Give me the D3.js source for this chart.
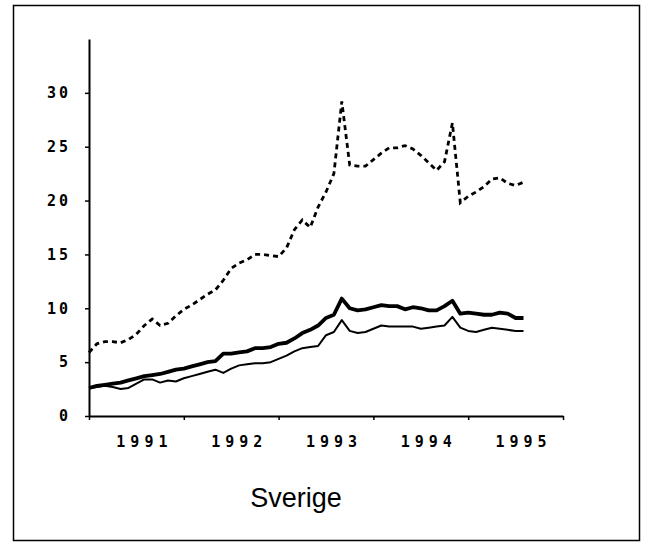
<!DOCTYPE html>
<html>
    <head>
        <script src="https://cdn.jsdelivr.net/npm/d3@7/dist/d3.min.js" type="text/javascript"></script>
        <style>
            body { margin: 0; background: #fff; }
        </style>
    </head>
    <body>
    </body>
    <script>
        var width = 650;
        var height = 546;

        // monthly values, first point = Jan 1991
        var startYear = 1991;
        var youth = [5.9, 6.7, 6.9, 6.9, 6.8, 7.1, 7.6, 8.4, 9.0, 8.4,
                     8.6, 9.3, 9.9, 10.3, 10.8, 11.3, 11.7, 12.6, 13.7, 14.2,
                     14.5, 15.0, 15.0, 14.9, 14.8, 15.6, 17.3, 18.2, 17.5, 19.4,
                     20.8, 22.5, 29.2, 23.3, 23.2, 23.2, 23.8, 24.4, 24.9, 24.9,
                     25.1, 24.8, 24.2, 23.5, 22.8, 23.6, 27.2, 19.8, 20.4, 20.8,
                     21.3, 22.0, 22.1, 21.6, 21.4, 21.7];
        var total = [2.6, 2.8, 2.9, 3.0, 3.1, 3.3, 3.5, 3.7, 3.8, 3.9,
                     4.1, 4.3, 4.4, 4.6, 4.8, 5.0, 5.1, 5.8, 5.8, 5.9,
                     6.0, 6.3, 6.3, 6.4, 6.7, 6.8, 7.2, 7.7, 8.0, 8.4,
                     9.1, 9.4, 10.9, 10.0, 9.8, 9.9, 10.1, 10.3, 10.2, 10.2,
                     9.9, 10.1, 10.0, 9.8, 9.8, 10.2, 10.7, 9.5, 9.6, 9.5,
                     9.4, 9.4, 9.6, 9.5, 9.1, 9.1];
        var open = [2.6, 2.7, 2.8, 2.7, 2.5, 2.6, 3.0, 3.4, 3.4, 3.1,
                    3.3, 3.2, 3.5, 3.7, 3.9, 4.1, 4.3, 4.0, 4.4, 4.7,
                    4.8, 4.9, 4.9, 5.0, 5.3, 5.6, 6.0, 6.3, 6.4, 6.5,
                    7.5, 7.8, 8.9, 7.9, 7.7, 7.8, 8.1, 8.4, 8.3, 8.3,
                    8.3, 8.3, 8.1, 8.2, 8.3, 8.4, 9.2, 8.2, 7.9, 7.8,
                    8.0, 8.2, 8.1, 8.0, 7.9, 7.9];
        var yTicks = [0, 5, 10, 15, 20, 25, 30];
        var years = [1991, 1992, 1993, 1994, 1995];
        var title = "Sverige";

        var svg = d3.select("body").append("svg")
                                   .attr("width", width)
                                   .attr("height", height);

        // scanned page frame
        svg.append("rect")
           .attr("x", 13.5)
           .attr("y", 5.5)
           .attr("width", 626)
           .attr("height", 535)
           .attr("fill", "none")
           .attr("stroke", "black")
           .attr("stroke-width", 1.5);

        var x = d3.scaleLinear().domain([1991, 1996]).range([89, 563]);
        var y = d3.scaleLinear().domain([0, 35]).range([416, 39]);

        function toPoints(arr){
            return arr.map(function(v, i){ return {t: startYear + i/12, v: v}; });
        }

        var line = d3.line()
                     .x(function(d){ return x(d.t); })
                     .y(function(d){ return y(d.v); });

        // y axis
        var yAxis = svg.append("g")
                       .attr("transform", "translate(89,0)")
                       .call(d3.axisLeft(y).tickValues(yTicks).tickSize(4).tickSizeOuter(0).tickPadding(14));
        yAxis.select(".domain").attr("stroke-width", 2);
        yAxis.selectAll(".tick line").attr("stroke-width", 1.5);
        yAxis.selectAll(".tick text")
             .attr("font-family", "DejaVu Sans Mono")
             .attr("font-weight", "bold")
             .attr("font-size", "15px")
             .attr("letter-spacing", "3px")
             .attr("fill", "black");

        // x axis
        var xAxis = svg.append("g")
                       .attr("transform", "translate(0,416)")
                       .call(d3.axisBottom(x).tickValues(d3.range(1991, 1997)).tickSize(4).tickSizeOuter(0).tickFormat(""));
        xAxis.select(".domain").attr("stroke-width", 2);
        xAxis.selectAll(".tick line").attr("stroke-width", 1.5);

        svg.selectAll(".year")
           .data(years)
           .enter().append("text")
           .attr("class", "year")
           .attr("x", function(d){ return x(d + 0.5) + 8; })
           .attr("y", 447)
           .attr("text-anchor", "middle")
           .attr("font-family", "DejaVu Sans Mono")
           .attr("font-weight", "bold")
           .attr("font-size", "15px")
           .attr("letter-spacing", "5px")
           .attr("fill", "black")
           .text(function(d){ return d; });

        // series
        svg.append("path")
           .datum(toPoints(youth))
           .attr("d", line)
           .attr("fill", "none")
           .attr("stroke", "black")
           .attr("stroke-width", 2.8)
           .attr("stroke-dasharray", "5,4");

        svg.append("path")
           .datum(toPoints(total))
           .attr("d", line)
           .attr("fill", "none")
           .attr("stroke", "black")
           .attr("stroke-width", 3.8)
           .attr("stroke-linejoin", "round");

        svg.append("path")
           .datum(toPoints(open))
           .attr("d", line)
           .attr("fill", "none")
           .attr("stroke", "black")
           .attr("stroke-width", 2)
           .attr("stroke-linejoin", "round");

        svg.append("text")
           .attr("x", 296)
           .attr("y", 507)
           .attr("text-anchor", "middle")
           .attr("font-family", "Liberation Sans, Arial, sans-serif")
           .attr("font-size", "27px")
           .attr("fill", "black")
           .text(title);
    </script>
</html>
